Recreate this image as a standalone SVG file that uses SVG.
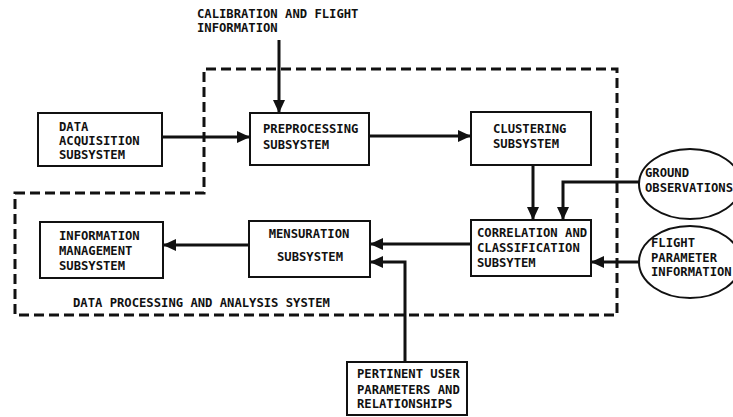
<svg xmlns="http://www.w3.org/2000/svg" width="733" height="417" viewBox="0 0 733 417">
<style>
text{font-family:"DejaVu Sans Mono","Liberation Mono",monospace;font-size:12.2px;font-weight:bold;fill:#111}
.box{fill:#fff;stroke:#111;stroke-width:2}
.conn{fill:none;stroke:#111;stroke-width:3;marker-end:url(#ah)}
.bound{fill:none;stroke:#111;stroke-width:3;stroke-dasharray:10 5}
.mid{text-anchor:middle}
</style>
<defs>
<marker id="ah" markerUnits="userSpaceOnUse" markerWidth="14" markerHeight="12" refX="13" refY="6" orient="auto">
<path d="M0,0 L13,6 L0,12 Z" fill="#111"/>
</marker>
</defs>
<rect width="733" height="417" fill="#fff"/>
<path class="bound" d="M15,193 H204 V69 H617 V315 H15 Z"/>
<g id="connectors">
<path class="conn" d="M279,40 V113"/>
<path class="conn" d="M162,137 H250"/>
<path class="conn" d="M369,136 H471"/>
<path class="conn" d="M533,165 V220"/>
<path class="conn" d="M639,182 H563 V220"/>
<path class="conn" d="M639,262 H591"/>
<path class="conn" d="M471,244 H370"/>
<path class="conn" d="M405,362 V262 H370"/>
<path class="conn" d="M249,245 H163"/>
</g>
<g id="calibration">
<text x="197" y="18">CALIBRATION AND FLIGHT</text>
<text x="197" y="32">INFORMATION</text>
</g>
<g id="data-acquisition">
<rect class="box" x="38" y="113" width="124" height="53"/>
<text x="59" y="131">DATA</text>
<text x="59" y="145">ACQUISITION</text>
<text x="59" y="159">SUBSYSTEM</text>
</g>
<g id="preprocessing">
<rect class="box" x="250" y="113" width="119" height="52"/>
<text x="263" y="133">PREPROCESSING</text>
<text x="263" y="149">SUBSYSTEM</text>
</g>
<g id="clustering">
<rect class="box" x="471" y="112" width="120" height="53"/>
<text x="493" y="133">CLUSTERING</text>
<text x="493" y="148">SUBSYSTEM</text>
</g>
<g id="ground-observations">
<ellipse class="box" cx="690" cy="184" rx="51" ry="35"/>
<text x="645" y="177">GROUND</text>
<text x="645" y="192">OBSERVATIONS</text>
</g>
<g id="flight-parameter">
<ellipse class="box" cx="690" cy="262" rx="51" ry="36"/>
<text x="651" y="247">FLIGHT</text>
<text x="651" y="262">PARAMETER</text>
<text x="651" y="276">INFORMATION</text>
</g>
<g id="correlation">
<rect class="box" x="471" y="220" width="120" height="56"/>
<text x="477" y="237">CORRELATION AND</text>
<text x="477" y="252">CLASSIFICATION</text>
<text x="477" y="267">SUBSYTEM</text>
</g>
<g id="mensuration">
<rect class="box" x="249" y="221" width="121" height="56"/>
<text class="mid" x="309" y="238">MENSURATION</text>
<text class="mid" x="310" y="261">SUBSYSTEM</text>
</g>
<g id="information-management">
<rect class="box" x="40" y="222" width="123" height="56"/>
<text x="59" y="240">INFORMATION</text>
<text x="59" y="255">MANAGEMENT</text>
<text x="59" y="270">SUBSYSTEM</text>
</g>
<g id="system-label">
<text x="73" y="307">DATA PROCESSING AND ANALYSIS SYSTEM</text>
</g>
<g id="pertinent">
<rect class="box" x="347" y="362" width="120" height="53"/>
<text x="357" y="378">PERTINENT USER</text>
<text x="357" y="394">PARAMETERS AND</text>
<text x="357" y="408">RELATIONSHIPS</text>
</g>
</svg>
